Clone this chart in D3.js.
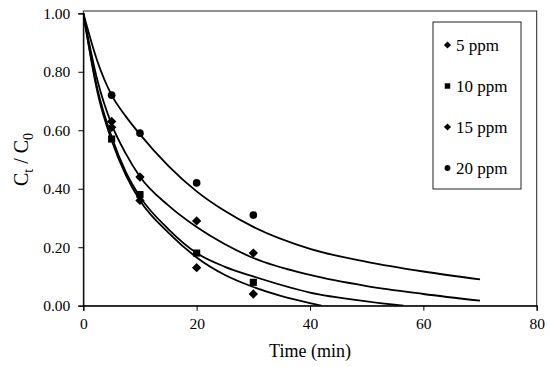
<!DOCTYPE html>
<html>
<head>
<meta charset="utf-8">
<script src="https://cdn.jsdelivr.net/npm/d3@7"></script>
<style>
  body { margin: 0; background: #fff; }
  text { font-family: "Liberation Serif", "Times New Roman", serif; fill: #000; }
</style>
</head>
<body>
<svg id="chart" width="550" height="367"></svg>
<script>
// measured points
var seriesNames = ["5 ppm", "10 ppm", "15 ppm", "20 ppm"];
var seriesShapes = ["diamond", "square", "diamond", "circle"];
var sampleTimes = [5, 10, 20, 30];
var obs5 = [0.61, 0.36, 0.13, 0.04];
var obs10 = [0.57, 0.38, 0.18, 0.08];
var obs15 = [0.63, 0.44, 0.29, 0.18];
var obs20 = [0.72, 0.59, 0.42, 0.31];

// fitted curves
var fitT5 = [0, 2.5, 5, 7.5, 10, 15, 20, 25, 30, 35, 40, 42];
var fit5 = [1, 0.73, 0.565, 0.447, 0.36, 0.25, 0.165, 0.105, 0.064, 0.033, 0.009, 0];
var fitT10 = [0, 2.5, 5, 7.5, 10, 15, 20, 25, 30, 40, 50, 56.5];
var fit10 = [1, 0.74, 0.578, 0.458, 0.373, 0.262, 0.18, 0.133, 0.10, 0.045, 0.015, 0];
var fitT15 = [0, 2.5, 5, 7.5, 10, 15, 20, 25, 30, 40, 50, 60, 70];
var fit15 = [1, 0.77, 0.62, 0.52, 0.441, 0.343, 0.269, 0.21, 0.163, 0.105, 0.067, 0.04, 0.017];
var fitT20 = [0, 2.5, 5, 7.5, 10, 15, 20, 25, 30, 40, 50, 60, 70];
var fit20 = [1, 0.835, 0.72, 0.6475, 0.586, 0.4785, 0.391, 0.3235, 0.2695, 0.1945, 0.15, 0.117, 0.09];

var xTicks = [0, 20, 40, 60, 80];
var yTicks = [0, 0.2, 0.4, 0.6, 0.8, 1.0];

var obs = [obs5, obs10, obs15, obs20];
var fitsT = [fitT5, fitT10, fitT15, fitT20];
var fits = [fit5, fit10, fit15, fit20];

var svg = d3.select("#chart");
var plotL = 83.3, plotR = 536.7, plotT = 13.3, plotB = 305.7, frameT = 11;

var x = d3.scaleLinear().domain([0, 80]).range([plotL, plotR]);
var y = d3.scaleLinear().domain([0, 1]).range([plotB, plotT]);

svg.append("defs").append("clipPath").attr("id", "clip")
  .append("rect")
  .attr("x", plotL).attr("y", frameT)
  .attr("width", plotR - plotL).attr("height", plotB - frameT);

// plot frame
svg.append("rect")
  .attr("x", plotL).attr("y", frameT)
  .attr("width", plotR - plotL).attr("height", plotB - frameT)
  .attr("fill", "none").attr("stroke", "#222").attr("stroke-width", 1);

var xAxis = svg.append("g")
  .attr("transform", "translate(0," + plotB + ")")
  .call(d3.axisBottom(x).tickValues(xTicks).tickSize(5).tickPadding(7).tickFormat(d3.format("d")));
var yAxis = svg.append("g")
  .attr("transform", "translate(" + plotL + ",0)")
  .call(d3.axisLeft(y).tickValues(yTicks).tickSize(5).tickPadding(8).tickFormat(d3.format(".2f")));

[xAxis, yAxis].forEach(function(g) {
  g.select(".domain").attr("stroke", "#000").attr("stroke-width", 1.2);
  g.selectAll(".tick line").attr("stroke", "#000");
  g.selectAll("text").style("font-size", "15.5px").style("font-family", "Liberation Serif, serif");
});

// curves
var line = d3.line()
  .x(function(d) { return x(d[0]); })
  .y(function(d) { return y(d[1]); })
  .curve(d3.curveMonotoneX);

fits.forEach(function(f, i) {
  var pts = f.map(function(v, j) { return [fitsT[i][j], v]; });
  svg.append("path")
    .attr("d", line(pts))
    .attr("clip-path", "url(#clip)")
    .attr("fill", "none")
    .attr("stroke", "#000")
    .attr("stroke-width", 1.8);
});

function drawMarker(g, shape, cx, cy, s) {
  if (shape === "circle") {
    g.append("circle").attr("cx", cx).attr("cy", cy).attr("r", s * 0.45).attr("fill", "#000");
  } else if (shape === "square") {
    g.append("rect").attr("x", cx - s * 0.42).attr("y", cy - s * 0.42)
      .attr("width", s * 0.84).attr("height", s * 0.84).attr("fill", "#000");
  } else {
    g.append("path")
      .attr("d", "M" + cx + "," + (cy - s * 0.55) + "L" + (cx + s * 0.55) + "," + cy +
        "L" + cx + "," + (cy + s * 0.55) + "L" + (cx - s * 0.55) + "," + cy + "Z")
      .attr("fill", "#000");
  }
}

var marks = svg.append("g");
obs.forEach(function(vals, i) {
  vals.forEach(function(v, j) {
    drawMarker(marks, seriesShapes[i], x(sampleTimes[j]), y(v), 8.5);
  });
});

// legend
var legend = svg.append("g");
legend.append("rect")
  .attr("x", 433).attr("y", 22).attr("width", 88).attr("height", 167)
  .attr("fill", "#fff").attr("stroke", "#222").attr("stroke-width", 1);
seriesNames.forEach(function(name, i) {
  var ly = 45 + i * 41;
  drawMarker(legend, seriesShapes[i], 447.5, ly, 6.5);
  legend.append("text")
    .attr("x", 456).attr("y", ly)
    .attr("dy", "0.35em")
    .style("font-size", "17px")
    .text(name);
});

// axis titles
svg.append("text")
  .attr("x", (plotL + plotR) / 2).attr("y", 357)
  .attr("text-anchor", "middle")
  .style("font-size", "18px")
  .text("Time (min)");

var yt = svg.append("text")
  .attr("transform", "translate(28," + ((plotT + plotB) / 2) + ") rotate(-90)")
  .attr("text-anchor", "middle")
  .style("font-size", "20px");
yt.append("tspan").text("C");
yt.append("tspan").attr("dy", 5).style("font-size", "14px").text("t");
yt.append("tspan").attr("dy", -5).text(" / C");
yt.append("tspan").attr("dy", 5).style("font-size", "14px").text("0");
</script>
</body>
</html>
